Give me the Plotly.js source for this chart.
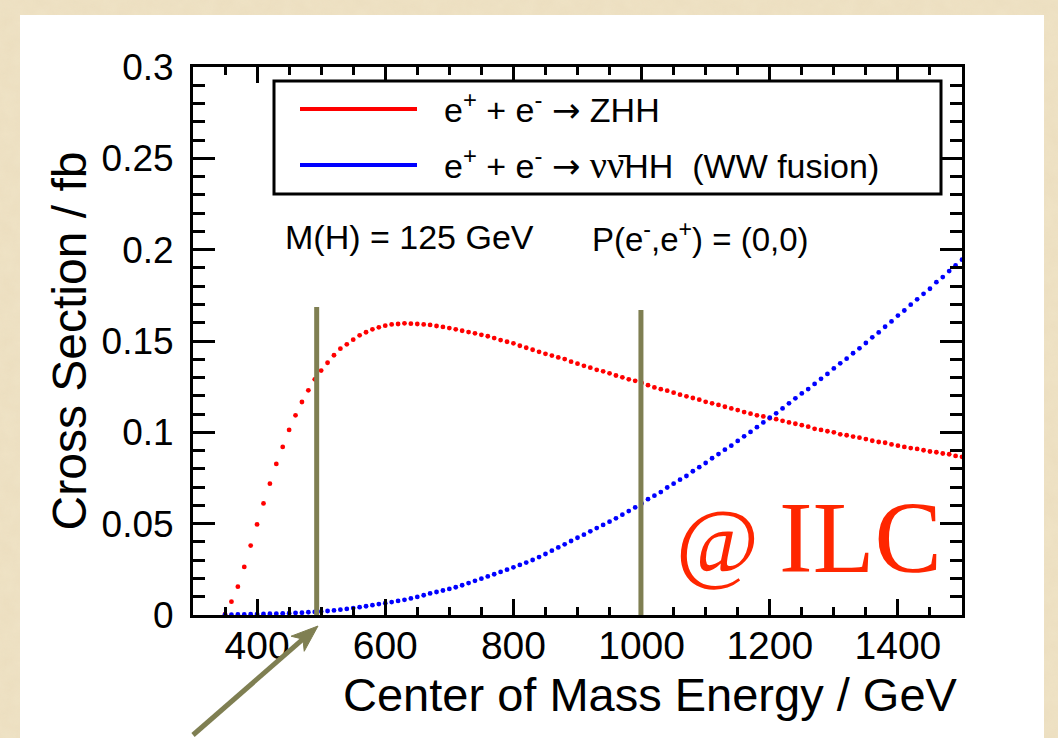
<!DOCTYPE html>
<html>
<head>
<meta charset="utf-8">
<script src="https://cdn.plot.ly/plotly-3.0.1.min.js"></script>
<style>
  html, body { margin: 0; padding: 0; width: 1058px; height: 738px; overflow: hidden; background-color: #efe3c6; }
  #sheet { position: absolute; left: 20px; top: 15px; width: 1024px; height: 723px; background: #ffffff; }
  #chart { position: absolute; left: 0; top: 0; width: 1058px; height: 738px; }
</style>
</head>
<body>
<div id="sheet"></div>
<div id="chart"></div>
<script>
// Centre-of-mass energy grid (GeV)
const energies = [
  350, 360, 370, 380, 390, 400, 410, 420, 430, 440, 450, 460, 470, 480, 490,
  500, 510, 520, 530, 540, 550, 560, 570, 580, 590, 600, 610, 620, 630, 640,
  650, 660, 670, 680, 690, 700, 710, 720, 730, 740, 750, 760, 770, 780, 790,
  800, 810, 820, 830, 840, 850, 860, 870, 880, 890, 900, 910, 920, 930, 940,
  950, 960, 970, 980, 990, 1000, 1010, 1020, 1030, 1040, 1050, 1060, 1070, 1080, 1090,
  1100, 1110, 1120, 1130, 1140, 1150, 1160, 1170, 1180, 1190, 1200, 1210, 1220, 1230, 1240,
  1250, 1260, 1270, 1280, 1290, 1300, 1310, 1320, 1330, 1340, 1350, 1360, 1370, 1380, 1390,
  1400, 1410, 1420, 1430, 1440, 1450, 1460, 1470, 1480, 1490, 1500
];

// e+ e- -> ZHH cross section (fb)
const sigmaZHH = [
  0.0005, 0.0073, 0.0155, 0.0263, 0.0380, 0.0496, 0.0611, 0.0719, 0.0827, 0.0920, 0.1013, 0.1093, 0.1166, 0.1230, 0.1290,
  0.1338, 0.1381, 0.1422, 0.1458, 0.1482, 0.1507, 0.1531, 0.1548, 0.1564, 0.1575, 0.1584, 0.1591, 0.1593, 0.1597, 0.1595,
  0.1593, 0.1591, 0.1588, 0.1582, 0.1577, 0.1571, 0.1564, 0.1556, 0.1549, 0.1542, 0.1534, 0.1526, 0.1516, 0.1505, 0.1496,
  0.1487, 0.1474, 0.1463, 0.1452, 0.1441, 0.1430, 0.1420, 0.1410, 0.1401, 0.1387, 0.1376, 0.1364, 0.1354, 0.1342, 0.1334,
  0.1323, 0.1311, 0.1301, 0.1290, 0.1282, 0.1270, 0.1258, 0.1246, 0.1236, 0.1228, 0.1217, 0.1206, 0.1197, 0.1188, 0.1179,
  0.1167, 0.1159, 0.1150, 0.1140, 0.1131, 0.1122, 0.1111, 0.1102, 0.1093, 0.1087, 0.1077, 0.1072, 0.1063, 0.1054, 0.1047,
  0.1039, 0.1031, 0.1019, 0.1013, 0.1006, 0.1000, 0.0989, 0.0984, 0.0977, 0.0971, 0.0963, 0.0954, 0.0947, 0.0943, 0.0934,
  0.0927, 0.0920, 0.0914, 0.0909, 0.0902, 0.0895, 0.0891, 0.0884, 0.0880, 0.0871, 0.0866
];

// e+ e- -> nu nubar HH (WW fusion) cross section (fb)
const sigmaWWF = [
  0.0002, 0.0002, 0.0003, 0.0003, 0.0004, 0.0005, 0.0006, 0.0007, 0.0008, 0.0009, 0.0010, 0.0012, 0.0013, 0.0015, 0.0017,
  0.0019, 0.0022, 0.0025, 0.0029, 0.0033, 0.0038, 0.0043, 0.0048, 0.0054, 0.0060, 0.0065, 0.0071, 0.0077, 0.0083, 0.0091,
  0.0099, 0.0108, 0.0118, 0.0126, 0.0134, 0.0143, 0.0152, 0.0163, 0.0175, 0.0187, 0.0199, 0.0211, 0.0223, 0.0236, 0.0248,
  0.0261, 0.0274, 0.0287, 0.0301, 0.0317, 0.0334, 0.0352, 0.0370, 0.0387, 0.0405, 0.0423, 0.0440, 0.0458, 0.0476, 0.0493,
  0.0511, 0.0529, 0.0549, 0.0569, 0.0589, 0.0611, 0.0634, 0.0653, 0.0673, 0.0698, 0.0719, 0.0741, 0.0761, 0.0787, 0.0809,
  0.0832, 0.0858, 0.0881, 0.0905, 0.0927, 0.0953, 0.0978, 0.1002, 0.1028, 0.1054, 0.1080, 0.1104, 0.1131, 0.1159, 0.1186,
  0.1213, 0.1237, 0.1265, 0.1293, 0.1320, 0.1350, 0.1378, 0.1403, 0.1433, 0.1460, 0.1489, 0.1520, 0.1547, 0.1578, 0.1607,
  0.1639, 0.1667, 0.1699, 0.1728, 0.1758, 0.1786, 0.1822, 0.1850, 0.1883, 0.1914, 0.1945
];

const ARROW = '<span style="font-family:DejaVu Sans">→</span>';
const seriesNames = [
  'e<sup>+</sup> + e<sup>-</sup> ' + ARROW + ' ZHH',
  'e<sup>+</sup> + e<sup>-</sup> ' + ARROW + ' <span style="font-family:Liberation Serif;font-size:38px">νν̄</span>HH\u00a0\u00a0(WW fusion)'
];
const seriesColors = ['#ff0000', '#0000ff'];

// Benchmark energies marked with vertical bars: [energy, bar top (fb)]
const benchmarkBars = [[493, 0.1686], [999, 0.167]];

const xTickValues = [400, 600, 800, 1000, 1200, 1400];
const yTickValues = [0, 0.05, 0.1, 0.15, 0.2, 0.25, 0.3];
const yTickText = ['0', '0.05', '0.1', '0.15', '0.2', '0.25', '0.3'];

// parchment texture behind the white sheet
(function () {
  const svg = "<svg xmlns='http://www.w3.org/2000/svg' width='320' height='320'>" +
    "<filter id='n'><feTurbulence type='fractalNoise' baseFrequency='0.06' numOctaves='4' seed='3'/>" +
    "<feColorMatrix values='0 0 0 0 0.80  0 0 0 0 0.68  0 0 0 0 0.47  0 0 0 0.45 0'/></filter>" +
    "<rect width='100%' height='100%' filter='url(#n)'/></svg>";
  document.body.style.backgroundImage = 'url("data:image/svg+xml,' + encodeURIComponent(svg) + '")';
})();

// plot box in page pixels, used to place the overlay decorations
const box = { l: 193, r: 962, t: 67, b: 615 };
const fx = p => (p - box.l) / (box.r - box.l);
const fy = p => (box.b - p) / (box.b - box.t);

const SANS = 'Liberation Sans, Arial, Helvetica, sans-serif';
const OLIVE = '#7f7f52';

const traces = [sigmaZHH, sigmaWWF].map((ys, i) => ({
  type: 'scatter',
  mode: 'markers',
  x: energies,
  y: ys,
  name: seriesNames[i],
  marker: { color: seriesColors[i], size: 4.8, line: { width: 0 } },
  hoverinfo: 'x+y',
  showlegend: false
}));

const shapes = [];
// benchmark bars
benchmarkBars.forEach(([e, top]) => {
  shapes.push({ type: 'line', xref: 'x', yref: 'y', x0: e, x1: e, y0: 0, y1: top,
    line: { color: OLIVE, width: 5 }, layer: 'above' });
});
// legend frame
shapes.push({ type: 'rect', xref: 'paper', yref: 'paper',
  x0: fx(274), x1: fx(941), y0: fy(194), y1: fy(81),
  line: { color: '#000', width: 3 }, fillcolor: '#ffffff', layer: 'above' });
// legend line samples
[109, 165].forEach((yy, i) => {
  shapes.push({ type: 'line', xref: 'paper', yref: 'paper',
    x0: fx(300), x1: fx(417), y0: fy(yy), y1: fy(yy),
    line: { color: seriesColors[i], width: 4 }, layer: 'above' });
});
// pointer arrow towards the 500 GeV bar: shaft plus notched head
(function () {
  const tail = [193, 735], tip = [318, 626];
  const dx = tip[0] - tail[0], dy = tip[1] - tail[1];
  const len = Math.hypot(dx, dy), ux = dx / len, uy = dy / len;
  const nx = -uy, ny = ux;
  const headLen = 27, halfW = 10, notch = 20;
  const base = [tip[0] - headLen * ux, tip[1] - headLen * uy];
  const b1 = [base[0] + halfW * nx, base[1] + halfW * ny];
  const b2 = [base[0] - halfW * nx, base[1] - halfW * ny];
  const nt = [tip[0] - notch * ux, tip[1] - notch * uy];
  const P = p => fx(p[0]) + ',' + fy(p[1]);
  shapes.push({ type: 'line', xref: 'paper', yref: 'paper',
    x0: fx(tail[0]), y0: fy(tail[1]), x1: fx(nt[0]), y1: fy(nt[1]),
    line: { color: OLIVE, width: 5 }, layer: 'above' });
  shapes.push({ type: 'path', xref: 'paper', yref: 'paper',
    path: 'M' + P(tip) + ' L' + P(b1) + ' L' + P(nt) + ' L' + P(b2) + ' Z',
    fillcolor: OLIVE, line: { color: OLIVE, width: 1 }, layer: 'above' });
})();

const annotations = [
  { xref: 'paper', yref: 'paper', x: fx(442), y: fy(108), xanchor: 'left', yanchor: 'middle',
    text: seriesNames[0], showarrow: false, font: { family: SANS, size: 34, color: '#000' } },
  { xref: 'paper', yref: 'paper', x: fx(442), y: fy(164), xanchor: 'left', yanchor: 'middle',
    text: seriesNames[1], showarrow: false, font: { family: SANS, size: 34, color: '#000' } },
  { xref: 'paper', yref: 'paper', x: fx(283), y: fy(237), xanchor: 'left', yanchor: 'middle',
    text: 'M(H) = 125 GeV', showarrow: false, font: { family: SANS, size: 34, color: '#000' } },
  { xref: 'paper', yref: 'paper', x: fx(590), y: fy(237), xanchor: 'left', yanchor: 'middle',
    text: 'P(e<sup>-</sup>,e<sup>+</sup>) = (0,0)', showarrow: false, font: { family: SANS, size: 33, color: '#000' } },
  { xref: 'paper', yref: 'paper', x: fx(944), y: fy(538), xanchor: 'right', yanchor: 'middle',
    text: '<span style="font-size:90px">@</span>\u2009ILC', showarrow: false,
    font: { family: 'Liberation Serif, Times New Roman, serif', size: 101, color: '#ff2600' } },
  // horizontal axis title, right-aligned to the end of the axis
  { xref: 'paper', yref: 'paper', x: fx(960), y: fy(694), xanchor: 'right', yanchor: 'middle',
    text: 'Center of Mass Energy / GeV', showarrow: false, font: { family: SANS, size: 47, color: '#000' } }
];

const layout = {
  width: 1058, height: 738,
  paper_bgcolor: 'rgba(0,0,0,0)',
  plot_bgcolor: 'rgba(0,0,0,0)',
  margin: { l: box.l, r: 1058 - box.r, t: box.t, b: 738 - box.b, pad: 0 },
  font: { family: SANS, color: '#000' },
  xaxis: {
    range: [300, 1500], tickmode: 'array', tickvals: xTickValues, ticktext: xTickValues.map(String),
    ticks: 'inside', ticklen: 16, tickwidth: 3, tickcolor: '#000',
    minor: { dtick: 50, tick0: 0, ticks: 'inside', ticklen: 8, tickwidth: 3, tickcolor: '#000' },
    showline: true, linewidth: 3, linecolor: '#000', mirror: 'ticks',
    showgrid: false, zeroline: false,
    tickfont: { family: SANS, size: 39, color: '#000' },
    ticklabelstandoff: -6,
    automargin: false
  },
  yaxis: {
    range: [0, 0.3], tickmode: 'array', tickvals: yTickValues, ticktext: yTickText,
    ticks: 'inside', ticklen: 22, tickwidth: 3, tickcolor: '#000',
    minor: { dtick: 0.01, tick0: 0, ticks: 'inside', ticklen: 12, tickwidth: 3, tickcolor: '#000' },
    showline: true, linewidth: 3, linecolor: '#000', mirror: 'ticks',
    showgrid: false, zeroline: false,
    tickfont: { family: SANS, size: 37, color: '#000' },
    ticklabelstandoff: 9,
    title: { text: 'Cross Section / fb', font: { family: SANS, size: 48, color: '#000' }, standoff: 0 },
    automargin: false
  },
  shapes: shapes,
  annotations: annotations,
  showlegend: false
};

Plotly.newPlot('chart', traces, layout, { displayModeBar: false, staticPlot: true });
</script>
</body>
</html>
